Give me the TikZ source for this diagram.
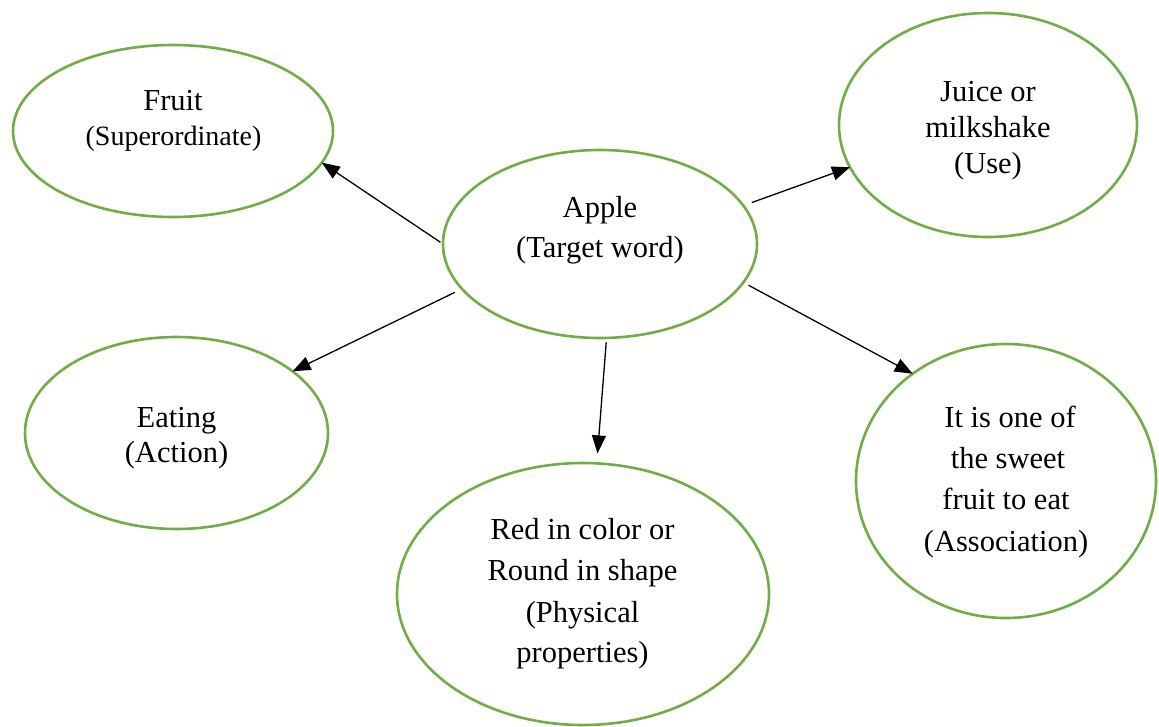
\documentclass[tikz,border=0pt]{standalone}
\usepackage{fontspec}
\setmainfont{Liberation Serif}
\usetikzlibrary{shapes.geometric,arrows.meta}
\definecolor{ogreen}{RGB}{112,173,71}
\tikzset{
  bubble/.style={ellipse,draw=ogreen,line width=2.6pt,inner sep=0pt,outer sep=0pt},
  txt/.style={anchor=base,inner sep=0pt,font=\fontsize{30.5}{36}\selectfont},
  txtsm/.style={anchor=base,inner sep=0pt,font=\fontsize{28}{34}\selectfont},
  arr/.style={draw=black,line width=1.3pt,-{Triangle[length=18pt,width=14pt]}}
}
\begin{document}
\begin{tikzpicture}[x=1pt,y=-1pt]
\useasboundingbox (0,0) rectangle (1159,726);
% ellipses
\node[bubble,minimum width=320pt,minimum height=172pt] (fruit) at (173,131) {};
\node[bubble,minimum width=314pt,minimum height=188pt] (apple) at (600,244) {};
\node[bubble,minimum width=298pt,minimum height=224pt] (juice) at (988,125) {};
\node[bubble,minimum width=303pt,minimum height=192pt] (eating) at (176.5,433) {};
\node[bubble,minimum width=372pt,minimum height=262pt] (red) at (583,594) {};
\node[bubble,minimum width=300pt,minimum height=274pt] (assoc) at (1006,481) {};
% texts
\node[txt] (fruit1) at (173,110) {Fruit};
\node[txtsm] (fruit2) at (173.5,145) {(Superordinate)};
\node[txt] (apple1) at (600,217) {Apple};
\node[txt] (apple2) at (600,257) {(Target word)};
\node[txt] (juice1) at (988,101) {Juice or};
\node[txt] (juice2) at (988,137) {milkshake};
\node[txt] (juice3) at (988,173) {(Use)};
\node[txt] (eating1) at (176.5,427) {Eating};
\node[txt] (eating2) at (176.5,462) {(Action)};
\node[txt] (red1) at (582.5,539) {Red in color or};
\node[txt] (red2) at (582.5,580) {Round in shape};
\node[txt] (red3) at (582.5,622) {(Physical};
\node[txt] (red4) at (582.5,662) {properties)};
\node[txt] (assoc1) at (1010,427) {It is one of};
\node[txt] (assoc2) at (1008,468) {the sweet};
\node[txt] (assoc3) at (1006,509) {fruit to eat};
\node[txt] (assoc4) at (1006,551) {(Association)};
% arrows
\draw[arr,shorten <=3pt] (apple.180) -- (fruit.-12.6);
\draw[arr,shorten <=9pt] (apple.15.1) -- (juice.197.6);
\draw[arr,shorten <=8pt] (apple.198.8) -- (eating.28.9);
\draw[arr,shorten <=4.5pt,shorten >=10pt] (apple.-86.5) -- (red.84.1);
\draw[arr,shorten <=6pt] (apple.-15.5) -- (assoc.131.3);
\end{tikzpicture}
\end{document}
